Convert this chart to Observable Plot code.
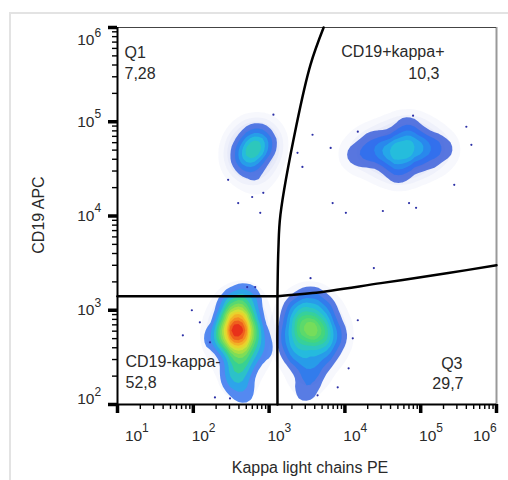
<!DOCTYPE html>
<html><head><meta charset="utf-8">
<script src="https://cdn.jsdelivr.net/npm/d3@7"></script>
<script src="https://cdn.jsdelivr.net/npm/@observablehq/plot@0.6"></script>
<style>
html,body{margin:0;padding:0;background:#fff;overflow:hidden;}
#wrap{position:relative;width:508px;height:480px;overflow:hidden;}
#border{position:absolute;left:9px;top:12px;width:700px;height:700px;border:2px solid #e3e3e3;}
#chart{position:absolute;left:0;top:0;}
</style></head><body>
<div id="wrap"><div id="border"></div><div id="chart"></div></div>
<script>
// ---- Data ----
// Axis titles
const xTitle = "Kappa light chains PE";
const yTitle = "CD19 APC";
// Tick decades and their labels (10 with a superscript exponent)
const decades = [10, 100, 1000, 1e4, 1e5, 1e6];
const decadeBase = "10";
const decadeExponents = ["1", "2", "3", "4", "5", "6"];
const minorMultipliers = [2, 3, 4, 5, 6, 7, 8, 9];

// Population density anchors (kappa PE, CD19 APC, relative weight)
const negKappa  = [378, 391, 270, 598, 335, 530, 415, 367, 469, 187, 813, 499];
const negCd19   = [745, 480, 583, 612, 1130, 1130, 294, 189, 125, 480, 375, 1550];
const negWeight = [8, 8, 3, 3, 3, 2, 4, 2.5, 1.2, 1.2, 1.5, 1];

const q3Kappa  = [3020, 4500, 2440, 5080, 2440, 5080, 3520, 1910, 7550, 3020, 3520];
const q3Cd19   = [644, 583, 953, 953, 357, 357, 219, 542, 542, 134, 1340];
const q3Weight = [3.4, 3.4, 2.2, 1.8, 2.2, 1.8, 1.4, 1.4, 1.1, 0.8, 1.1];

const q1Kappa  = [617, 483, 813, 564, 676, 719];
const q1Cd19   = [52800, 44600, 56900, 34900, 76400, 21400];
const q1Weight = [1.7, 1.3, 1.3, 0.9, 0.7, 0.4];

const posKappa  = [55000, 86900, 34800, 137000, 18900, 217000, 11900, 55000, 64000, 24100, 120000, 45000, 70000];
const posCd19   = [50400, 52800, 48000, 56900, 44600, 50400, 44600, 32400, 78400, 66000, 36000, 28000, 90000];
const posWeight = [1.8, 1.4, 1.4, 0.8, 0.8, 0.5, 0.4, 0.8, 0.7, 0.5, 0.5, 0.35, 0.35];

// Isolated events
const strayKappa = [79300, 14800, 3740, 6890, 10300, 31700, 70200, 86900, 24100, 3520, 6490, 466000, 400000, 277000, 2750,
  1140, 391, 598, 764, 838, 2370, 288, 95.7, 122, 72.8, 166, 514, 193, 305, 12700, 11200, 8040, 656, 4360, 14800];
const strayCd19 = [116000, 78400, 72800, 13700, 10800, 11300, 13700, 12200, 2800, 2190, 52800, 56900, 88500, 21400, 33200,
  119000, 13700, 15900, 10800, 17600, 46800, 24200, 1000, 745, 542, 457, 1760, 119, 116, 504, 242, 152, 1760, 125, 783];

// Gates
const gateLeftKappa = [10, 1290];
const gateLeftCd19 = [1410, 1410];
const gateRightKappa = [1290, 3740, 29900, 231000, 1e6];
const gateRightCd19 = [1410, 1520, 1940, 2480, 3010];
const gateVertKappa = [1290, 1290, 1325, 1410, 2300, 3520, 5240];
const gateVertCd19 = [100, 1410, 4350, 10260, 92900, 404000, 1e6];

// Quadrant labels
const quadNames = ["Q1", "CD19+kappa+", "CD19-kappa-", "Q3"];
const quadPercents = ["7,28", "10,3", "52,8", "29,7"];

// ---- Build tables ----
const rows = (xs, ys, ws) => xs.map((x, i) => ({kappa: x, cd19: ys[i], w: ws ? ws[i] : 1}));
const populations = [
  {data: rows(negKappa, negCd19, negWeight), levels: 14},
  {data: rows(q3Kappa, q3Cd19, q3Weight), levels: 10},
  {data: rows(q1Kappa, q1Cd19, q1Weight), levels: 6},
  {data: rows(posKappa, posCd19, posWeight), levels: 6}
];
const stray = rows(strayKappa, strayCd19);
const minorX = decades.slice(0, -1).flatMap(d => minorMultipliers.map(m => d * m));
const minorY = decades.slice(1, -1).flatMap(d => minorMultipliers.map(m => d * m));
const decadeLabels = decades.map((v, i) => ({v, base: decadeBase, exp: decadeExponents[i]}));
const xFirst = decadeLabels.slice(0, 1), xMid = decadeLabels.slice(1, 5), xLast = decadeLabels.slice(5);
const yTop = decadeLabels.slice(5), yMid = decadeLabels.slice(2, 5), yBottom = decadeLabels.slice(1, 2);

const densityStops = [0, 0.08, 0.18, 0.32, 0.5, 0.65, 0.82, 1];
const densityColors = ["#3a3fc0", "#2a6ff0", "#22c0e6", "#3ed67c", "#9fe044", "#f0e02c", "#f69222", "#e6261a"];
const densityRamp = d3.scaleLinear().domain(densityStops).range(densityColors).interpolate(d3.interpolateRgb).clamp(true);
const font = "'Liberation Sans', Arial, sans-serif";
const ink = "#2a2a2a";
const baseSize = 15.5, expSize = 12;

// x tick labels: "10" then the exponent raised after it
const xLabel = (data, shift) => [
  Plot.text(data, {x: "v", text: "base", frameAnchor: "bottom", textAnchor: "middle", lineAnchor: "middle",
    dx: shift, dy: 32, fontSize: baseSize, fill: ink}),
  Plot.text(data, {x: "v", text: "exp", frameAnchor: "bottom", textAnchor: "start", lineAnchor: "middle",
    dx: shift + 8.5, dy: 24, fontSize: expSize, fill: ink})
];
const yLabel = (data, shift) => [
  Plot.text(data, {y: "v", text: "base", frameAnchor: "left", textAnchor: "end", lineAnchor: "middle",
    dx: -23, dy: shift, fontSize: baseSize, fill: ink}),
  Plot.text(data, {y: "v", text: "exp", frameAnchor: "left", textAnchor: "start", lineAnchor: "middle",
    dx: -23, dy: shift - 7.5, fontSize: expSize, fill: ink})
];

const plot = Plot.plot({
  width: 508, height: 480,
  marginLeft: 117, marginRight: 12, marginTop: 27, marginBottom: 76,
  style: {fontFamily: font, fontSize: "12px", background: "transparent", color: "#000"},
  x: {type: "log", domain: [10, 1e6], axis: null},
  y: {type: "log", domain: [100, 1e6], axis: null},
  color: {type: "linear", interpolate: t => densityRamp(t)},
  marks: [
    // soft halo of sparse events around each population
    ...populations.map(p => Plot.density(p.data, {
      x: "kappa", y: "cd19", weight: "w", bandwidth: 13, thresholds: 10,
      fill: "#3340c0", fillOpacity: 0.04, clip: true
    })),
    ...populations.map(p => Plot.density(p.data, {
      x: "kappa", y: "cd19", weight: "w", bandwidth: 8.5, thresholds: p.levels,
      fill: "density", fillOpacity: 0.8, clip: true
    })),
    Plot.dot(stray, {x: "kappa", y: "cd19", r: 1.1, fill: "#2b2fa6"}),
    Plot.ruleX([1e6], {stroke: "#999", strokeWidth: 2}),
    Plot.ruleY([1e6], {stroke: "#444", strokeWidth: 1}),
    Plot.line(rows(gateLeftKappa, gateLeftCd19), {x: "kappa", y: "cd19", stroke: "#000", strokeWidth: 2.5}),
    Plot.line(rows(gateRightKappa, gateRightCd19), {x: "kappa", y: "cd19", stroke: "#000", strokeWidth: 2.5, curve: "catmull-rom"}),
    Plot.line(rows(gateVertKappa, gateVertCd19), {x: "kappa", y: "cd19", stroke: "#000", strokeWidth: 2.5, curve: "catmull-rom"}),
    Plot.axisX({ticks: minorX, tickSize: 5, strokeWidth: 1.4, tickFormat: () => "", label: null}),
    Plot.axisY({ticks: minorY, tickSize: 5, strokeWidth: 1.4, tickFormat: () => "", label: null}),
    Plot.axisX({ticks: decades, tickSize: 9, strokeWidth: 3.5, tickFormat: () => "", label: null}),
    Plot.axisY({ticks: decades.slice(1), tickSize: 9, strokeWidth: 3.5, tickFormat: () => "", label: null}),
    Plot.ruleX([10], {stroke: "#000", strokeWidth: 2}),
    Plot.ruleY([100], {stroke: "#000", strokeWidth: 2}),
    ...xLabel(xFirst, 16), ...xLabel(xMid, 7), ...xLabel(xLast, -15),
    ...yLabel(yTop, 13), ...yLabel(yMid, 0), ...yLabel(yBottom, -5),
    // Quadrant names and percentages
    Plot.text([quadNames[0]], {text: d => d, frameAnchor: "top-left", lineAnchor: "middle", dx: 7, dy: 25, fontSize: 16, fill: ink}),
    Plot.text([quadPercents[0]], {text: d => d, frameAnchor: "top-left", lineAnchor: "middle", dx: 7, dy: 46, fontSize: 16, fill: ink}),
    Plot.text([quadNames[1]], {text: d => d, frameAnchor: "top-right", lineAnchor: "middle", dx: -52, dy: 24, fontSize: 16, fill: ink}),
    Plot.text([quadPercents[1]], {text: d => d, frameAnchor: "top-right", lineAnchor: "middle", dx: -57, dy: 46, fontSize: 16, fill: ink}),
    Plot.text([quadNames[2]], {text: d => d, frameAnchor: "bottom-left", lineAnchor: "middle", dx: 8, dy: -43, fontSize: 16, fill: ink}),
    Plot.text([quadPercents[2]], {text: d => d, frameAnchor: "bottom-left", lineAnchor: "middle", dx: 8, dy: -22, fontSize: 16, fill: ink}),
    Plot.text([quadNames[3]], {text: d => d, frameAnchor: "bottom-right", lineAnchor: "middle", dx: -34, dy: -41, fontSize: 16, fill: ink}),
    Plot.text([quadPercents[3]], {text: d => d, frameAnchor: "bottom-right", lineAnchor: "middle", dx: -33, dy: -21, fontSize: 16, fill: ink}),
    // Axis titles
    Plot.text([xTitle], {text: d => d, frameAnchor: "bottom", textAnchor: "middle", lineAnchor: "middle", dx: 3, dy: 63, fontSize: 16, fill: ink}),
    Plot.text([yTitle], {text: d => d, frameAnchor: "left", textAnchor: "middle", lineAnchor: "middle", rotate: -90, dx: -79, dy: -1, fontSize: 16, fill: ink})
  ]
});

document.getElementById("chart").appendChild(plot);
</script>
</body></html>
